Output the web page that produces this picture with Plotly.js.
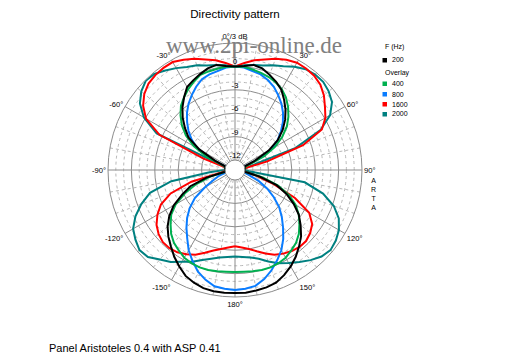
<!DOCTYPE html>
<html><head><meta charset="utf-8">
<script src="https://cdn.plot.ly/plotly-3.0.1.min.js"></script>
<style>html,body{margin:0;padding:0;background:#fff;}#chart{width:512px;height:358px;}</style>
</head><body><div id="chart"></div>
<script>
// angles (deg, clockwise from front), -180..180 step 5
const theta = [-180,-175,-170,-165,-160,-155,-150,-145,-140,-135,-130,-125,-120,-115,-110,-105,-100,-95,-90,-85,-80,-75,-70,-65,-60,-55,-50,-45,-40,-35,-30,-25,-20,-15,-10,-5,
 0,5,10,15,20,25,30,35,40,45,50,55,60,65,70,75,80,85,90,95,100,105,110,115,120,125,130,135,140,145,150,155,160,165,170,175,180];

const db200 = [2.5,2.5,2.5,2.4,2.1,1.7,1.0,0.3,-0.5,-1.2,-2.0,-3.0,-4.2,-5.8,-7.2,-9.5,-12.0,-13,-13,-13,-13,-13,-12.5,-10.5,-8.0,-6.0,-4.9,-3.8,-2.8,-1.9,-1.0,-0.6,-0.2,0.2,0.4,0.1,
 0,
 0.1,0.4,0.2,-0.3,-0.8,-1.4,-2.3,-3.2,-4.2,-5.3,-6.6,-8.3,-10.5,-12.5,-13,-13,-13,-13,-13,-12.3,-10.0,-7.6,-6.0,-4.6,-3.3,-2.3,-1.3,-0.5,0.3,1.0,1.6,2.1,2.3,2.4,2.5,2.5];

const db400 = [-0.2,-0.2,-0.1,0.0,0.0,-0.1,-0.3,-0.7,-1.1,-1.7,-2.5,-3.3,-4.5,-6.2,-8.0,-10.0,-12.2,-13,-13,-13,-13,-13,-11.8,-9.3,-7.2,-5.6,-4.4,-3.4,-2.5,-1.9,-1.3,-0.8,-0.3,-0.2,-0.1,0.0,
 0,
 0.0,-0.2,-0.4,-0.6,-0.9,-1.3,-1.9,-2.7,-3.6,-4.6,-5.9,-7.4,-9.2,-11.6,-13,-13,-13,-13,-13,-12.0,-9.6,-7.4,-5.6,-4.3,-3.3,-2.5,-1.7,-1.1,-0.7,-0.3,-0.1,0.0,0.0,-0.1,-0.2,-0.2];

const db800 = [2.1,2.0,1.85,1.3,0.6,-0.4,-1.4,-2.6,-3.6,-4.6,-5.7,-7.0,-8.8,-10.2,-11.1,-12.1,-13,-13,-13,-13,-13,-13,-12.2,-9.8,-7.7,-6.5,-5.5,-4.6,-3.7,-2.9,-2.2,-1.5,-0.9,-0.6,-0.4,-0.1,
 0,
 -0.1,-0.4,-0.6,-1.0,-1.5,-2.2,-2.9,-3.7,-4.6,-5.6,-6.6,-7.9,-9.9,-12.2,-13,-13,-13,-13,-13,-13,-12.3,-11.3,-9.9,-8.5,-7.2,-5.9,-4.8,-3.7,-2.5,-1.4,-0.5,0.4,1.2,1.8,2.0,2.1];

const db1600 = [-3.5,-3.3,-3.0,-2.6,-2.0,-1.3,-0.8,-0.4,-0.2,-0.2,-0.5,-1.0,-1.8,-2.8,-4.5,-7.5,-11.5,-13,-13,-13,-13,-12.5,-9.0,-2.6,-0.1,1.1,1.9,2.4,2.6,2.7,2.7,2.3,1.9,1.4,1.0,0.5,
 0,
 0.5,1.0,1.4,1.9,2.3,2.6,2.6,2.5,2.2,1.6,0.8,0.1,-1.0,-4.0,-9.0,-12.5,-13,-13,-13,-12.8,-10.5,-8.0,-4.8,-2.3,-1.2,-0.7,-0.4,-0.4,-0.6,-0.9,-1.3,-1.9,-2.5,-3.0,-3.3,-3.5];

const db2000 = [-2.2,-2.1,-1.9,-1.5,-1.0,-0.3,0.3,1.1,1.7,2.5,2.7,2.3,1.8,0.8,-0.5,-2.0,-5.0,-10.0,-13,-13,-13,-13,-11.5,-2.2,0.2,1.6,2.4,2.9,2.8,2.3,1.8,1.3,1.0,0.6,0.4,0.2,
 0,
 0.2,0.4,0.6,1.0,1.4,2.0,2.5,2.7,2.7,2.4,1.9,0.8,-1.2,-5.0,-11.0,-13,-13,-13,-11.5,-4.2,-1.6,0.2,1.4,2.1,2.5,2.7,2.4,1.8,1.1,0.5,-0.1,-0.8,-1.5,-1.9,-2.1,-2.2];

const seriesNames = ['200','400','800','1600','2000'];
const seriesColors = ['#000000','#00b050','#0a7cff','#ff0000','#008080'];
const seriesData = [db200, db400, db800, db1600, db2000];

const radialLabelValues = [0,-3,-6,-9,-12];
const radialLabelText = ['0','-3','-6','-9','-12'];
const majorDb = [-9,-6,-3,0];
const minorDb = [-11,-10,-8,-7,-5,-4,-2,-1,1,2];
const angleTickVals = [0,30,60,90,120,150,180,210,240,270,300,330];
const angleTickText = ['0°/3 dB','30°','60°','90°','120°','150°','180°','-150°','-120°','-90°','-60°','-30°'];
const minorAngles = [10,20,40,50,70,80,100,110,130,140,160,170,190,200,220,230,250,260,280,290,310,320,340,350];

const W = 512, H = 358;
const FONT = 'Liberation Sans, Arial, sans-serif';
const px = v => v / W;
const py = v => 1 - v / H;

const traces = [];
traces.push({type:'scatterpolar', subplot:'polar', r:[], theta:[], mode:'lines', showlegend:false, hoverinfo:'skip'});
traces.push({type:'scatterpolar', subplot:'polar2', r:radialLabelValues, theta:radialLabelValues.map(()=>0),
  mode:'text', text:radialLabelText, textposition:'top center', textfont:{family:FONT, size:8, color:'#000'},
  showlegend:false, hoverinfo:'skip', cliponaxis:false});
const order = [4,3,2,1,0];
order.forEach(i => {
  traces.push({type:'scatterpolar', subplot:'polar2', r:seriesData[i], theta:theta, mode:'lines',
    name:seriesNames[i], line:{color:seriesColors[i], width:2}, showlegend:false, hoverinfo:'skip'});
});

const dom = {x:[108/W, 362/W], y:[(H-297)/H, (H-43)/H]};
const holeFrac = 10/127;

const annotations = [];
const shapes = [];
function txt(t, x, y, size, anchor, extra) {
  annotations.push(Object.assign({text:t, x:px(x), y:py(y), xref:'paper', yref:'paper', showarrow:false,
    xanchor:anchor||'left', yanchor:'middle', font:{family:FONT, size:size, color:'#000'}}, extra||{}));
}
txt('www.2pi-online.de', 254, 45, 23, 'center', {font:{family:'Liberation Serif, Times New Roman, serif', size:23, color:'#808080'}});
txt('F (Hz)', 383, 47, 7, 'left');
txt('Overlay', 383, 73, 7, 'left');
const legendY = [60, 83.5, 94, 104, 114];
seriesNames.forEach((n, i) => {
  txt(n, 390, legendY[i], 7, 'left');
  shapes.push({type:'rect', xref:'paper', yref:'paper', x0:px(382.5), x1:px(387), y0:py(legendY[i]+2.5), y1:py(legendY[i]-2),
    fillcolor:seriesColors[i], line:{width:0}});
});
txt('A<br>R<br>T<br>A', 373, 194, 7, 'center');
txt('Panel Aristoteles 0.4 with ASP 0.41', 47, 348, 11, 'left');

const layout = {
  width:W, height:H, margin:{l:0,r:0,t:0,b:0}, paper_bgcolor:'#fff', showlegend:false,
  title:{text:'Directivity pattern', x:px(235), xanchor:'center', y:py(14), yanchor:'middle', font:{family:FONT, size:11.6, color:'#000'}},
  polar:{domain:dom, hole:holeFrac, bgcolor:'#fff',
    radialaxis:{range:[-12,3], tickmode:'array', tickvals:minorDb, showticklabels:false, ticks:'', showline:false,
      gridcolor:'#b8b8b8', griddash:'3px,3px', gridwidth:1},
    angularaxis:{rotation:90, direction:'clockwise', tickmode:'array', tickvals:minorAngles, showticklabels:false, ticks:'',
      showline:false, gridcolor:'#b8b8b8', griddash:'3px,3px', gridwidth:1}},
  polar2:{domain:dom, hole:holeFrac, bgcolor:'rgba(0,0,0,0)',
    radialaxis:{range:[-12,3], tickmode:'array', tickvals:majorDb, showticklabels:false, ticks:'', showline:false,
      gridcolor:'#8c8c8c', gridwidth:1},
    angularaxis:{rotation:90, direction:'clockwise', tickmode:'array', tickvals:angleTickVals, ticktext:angleTickText, ticks:'',
      showline:true, linecolor:'#8c8c8c', linewidth:1, gridcolor:'#8c8c8c', gridwidth:1,
      tickfont:{family:FONT, size:7.6, color:'#000'}}},
  annotations:annotations, shapes:shapes
};
Plotly.newPlot('chart', traces, layout, {displayModeBar:false, staticPlot:true});
</script></body></html>
